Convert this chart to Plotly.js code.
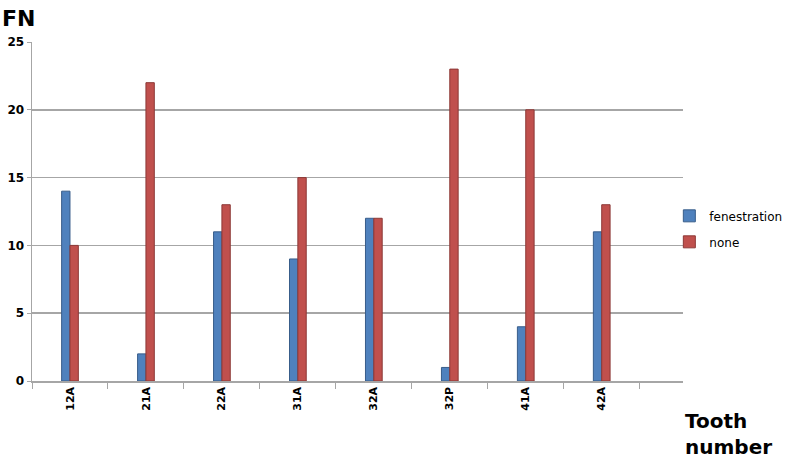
<!DOCTYPE html>
<html>
<head>
<meta charset="utf-8">
<script src="https://cdn.plot.ly/plotly-3.0.1.min.js"></script>
<style>
  html, body { margin: 0; padding: 0; background: #fff; }
  #chart { width: 788px; height: 460px; }
</style>
</head>
<body>
<div id="chart"></div>
<script>
var teeth = ['12A', '21A', '22A', '31A', '32A', '32P', '41A', '42A'];
var fenestration = [14, 2, 11, 9, 12, 1, 4, 11];
var none = [10, 22, 13, 15, 12, 23, 20, 13];
var yTicks = [0, 5, 10, 15, 20, 25];

var font = 'DejaVu Sans, Noto Sans, sans-serif';

var traces = [
  { x: teeth, y: fenestration, name: 'fenestration', type: 'bar', legendgroup: 'f',
    marker: {color: '#4F81BD', line: {color: '#385D8A', width: 1}} },
  { x: teeth, y: none, name: 'none', type: 'bar', legendgroup: 'n',
    marker: {color: '#C0504D', line: {color: '#8C3836', width: 1}} }
];

var layout = {
  width: 788, height: 460,
  margin: {l: 32, r: 105, t: 42, b: 79, autoexpand: false},
  paper_bgcolor: '#fff', plot_bgcolor: '#fff',
  barmode: 'group', bargap: 0.78, bargroupgap: 0,
  font: {family: font, color: '#000'},
  xaxis: {
    type: 'category', range: [-0.5, 8.07],
    tickangle: -90, tickfont: {size: 11, family: font, weight: 'bold'},
    showline: true, linecolor: '#A6A6A6', linewidth: 1.5,
    ticks: 'outside', ticklen: 6, tickcolor: '#A6A6A6', tickson: 'boundaries',
    showgrid: false
  },
  yaxis: {
    range: [0, 25], tickvals: yTicks, ticktext: yTicks.map(String),
    tickfont: {size: 12, family: font, weight: 'bold'},
    showline: true, linecolor: '#A6A6A6', linewidth: 1.5,
    ticks: 'outside', ticklen: 4, tickcolor: '#A6A6A6',
    gridcolor: '#A6A6A6', gridwidth: 1.5, zeroline: false
  },
  legend: {
    x: 0.979, y: 0.53, xanchor: 'left', yanchor: 'top',
    font: {size: 12, family: font}, itemwidth: 30, tracegroupgap: 7,
    bgcolor: 'rgba(0,0,0,0)'
  },
  annotations: [
    { text: '<b>FN</b>', xref: 'paper', yref: 'paper', x: -0.049, y: 1.068,
      xanchor: 'left', yanchor: 'middle', showarrow: false,
      font: {size: 22, family: font} },
    { text: '<b>Tooth<br>number</b>', xref: 'paper', yref: 'paper', x: 1.0, y: -0.076,
      xanchor: 'left', yanchor: 'top', align: 'left', showarrow: false,
      font: {size: 20, family: font} }
  ],
  showlegend: true
};

Plotly.newPlot('chart', traces, layout, {displayModeBar: false, staticPlot: true});
</script>
</body>
</html>
